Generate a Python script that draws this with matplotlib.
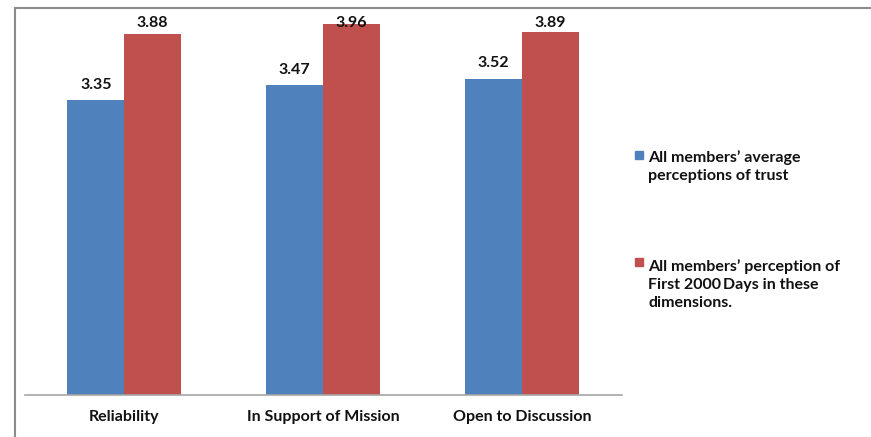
import numpy as np
import matplotlib.pyplot as plt
from matplotlib.lines import Line2D
from matplotlib.patches import Rectangle

categories = ['Reliability', 'In Support of Mission', 'Open to Discussion']
trust_avg = [3.35, 3.47, 3.52]
first_2000 = [3.88, 3.96, 3.89]
series_names = ['All members\u2019 average\nperceptions of trust',
                'All members\u2019 perception of\nFirst 2000\u2009Days in these\ndimensions.']

blue = '#4F81BD'
red = '#C0504D'
txt = '#111111'
W, H = 871, 437
fs = 11.5

plt.rcParams['font.family'] = ['Lato', 'DejaVu Sans']
fig = plt.figure(figsize=(W / 100, H / 100), dpi=100)
ax = fig.add_axes([24.5 / W, 42 / H, 597 / W, 376.5 / H])

x = np.arange(len(categories))
bw = 0.284
b1 = ax.bar(x - bw / 2, trust_avg, bw, color=blue)
b2 = ax.bar(x + bw / 2, first_2000, bw, color=red)

# value labels sit just above each bar, but never above the plot area
label_gap, label_cap = 0.09, 3.93
for bars, vals in ((b1, trust_avg), (b2, first_2000)):
    for b, v in zip(bars, vals):
        ax.text(b.get_x() + b.get_width() / 2, min(v + label_gap, label_cap), f'{v:.2f}',
                ha='center', va='baseline', fontsize=fs, fontweight='bold', color=txt,
                clip_on=False)

ax.set_ylim(1, 4)
ax.set_xlim(-0.5, 2.5)
ax.set_yticks([])
ax.set_xticks(x)
ax.set_xticklabels(categories, fontsize=fs, fontweight='bold', color=txt)
ax.tick_params(axis='x', length=0, pad=11)
for s in ['top', 'right', 'left']:
    ax.spines[s].set_visible(False)
ax.spines['bottom'].set_color('#a6a6a6')
ax.spines['bottom'].set_linewidth(1.2)

# legend: swatch beside the first line of each multi-line label
line_px = 20
for color, name, base in ((blue, series_names[0], 160), (red, series_names[1], 267)):
    n = name.count('\n')
    fig.add_artist(Rectangle((635 / W, 1 - (base - 1) / H), 8 / W, 8 / H,
                             transform=fig.transFigure, color=color))
    fig.text(648 / W, 1 - (base + n * line_px) / H, name, fontsize=fs, fontweight='bold',
             color=txt, va='baseline', ha='left', linespacing=1.37)

# outer chart frame
fig.add_artist(Line2D([14.5 / W, 14.5 / W], [0, 1 - 7.5 / H], transform=fig.transFigure,
                      color='#8c8c8c', lw=1.5))
fig.add_artist(Line2D([14.5 / W, 1], [1 - 7.5 / H, 1 - 7.5 / H], transform=fig.transFigure,
                      color='#8c8c8c', lw=1.5))

fig.savefig('out.png', dpi=100)
